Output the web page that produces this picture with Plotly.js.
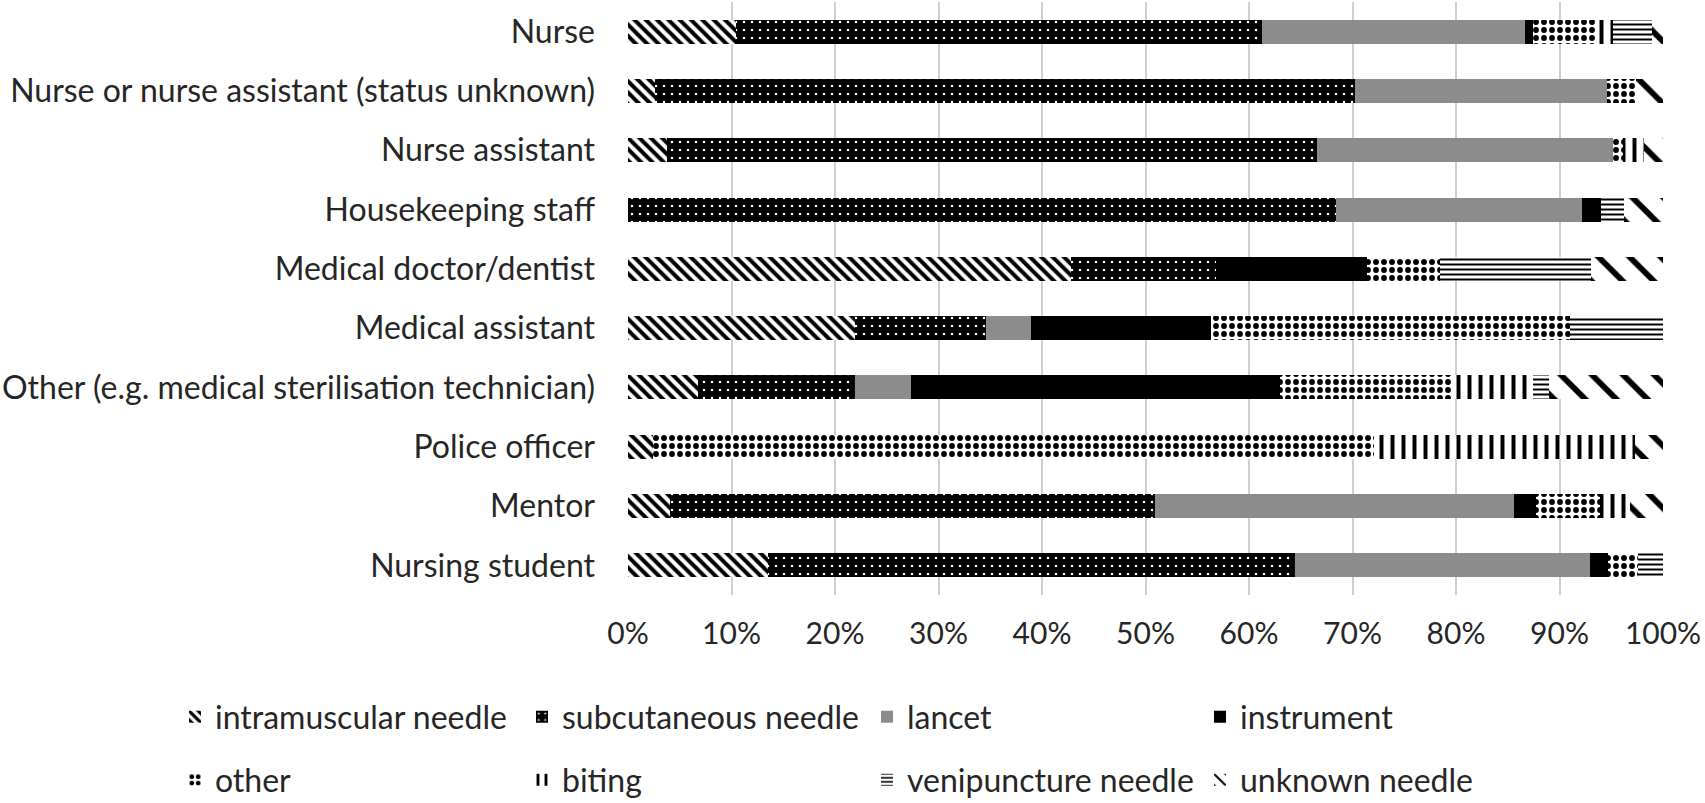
<!DOCTYPE html>
<html>
<head>
<meta charset="utf-8">
<script src="https://cdn.plot.ly/plotly-3.0.1.min.js"></script>
<style>
  html, body { margin: 0; padding: 0; background: #fff; }
  #chart { width: 1705px; height: 803px; }
  #chart text { font-variant-ligatures: none; }
</style>
</head>
<body>
<div id="chart"></div>
<script>
// occupations, top to bottom
var occupations = [
    'Nurse',
    'Nurse or nurse assistant (status unknown)',
    'Nurse assistant',
    'Housekeeping staff',
    'Medical doctor/dentist',
    'Medical assistant',
    'Other (e.g. medical sterilisation technician)',
    'Police officer',
    'Mentor',
    'Nursing student'
];

// share of injuries per device (%), same order as occupations
var intramuscular = [10.4, 2.6, 3.8, 0, 42.8, 21.9, 6.8, 2.4, 4.1, 13.5];
var subcutaneous  = [50.9, 67.6, 62.8, 68.4, 14.0, 12.7, 15.1, 0, 46.8, 50.9];
var lancet        = [25.4, 24.4, 28.6, 23.8, 0, 4.3, 5.4, 0, 34.7, 28.5];
var instrument    = [0.7, 0, 0, 1.8, 14.6, 17.4, 35.7, 0, 2.1, 1.8];
var other         = [6.1, 2.8, 0.9, 0, 7.1, 34.7, 16.6, 69.7, 6.2, 2.9];
var biting        = [1.7, 0, 2.1, 0, 0, 0, 7.8, 25.2, 2.9, 0];
var venipuncture  = [3.7, 0, 0, 2.2, 14.5, 9.0, 1.6, 0, 0, 2.4];
var unknown       = [1.1, 2.6, 1.8, 3.8, 7.0, 0, 11.0, 2.7, 3.2, 0];

var xTicks = [0, 10, 20, 30, 40, 50, 60, 70, 80, 90, 100];

var fontFamily = 'Lato, "Open Sans", sans-serif';
var textColor = '#262626';

// one bar trace per device, pattern mimics the excel fills
makeTrace = (name, values, color, pattern, legend) => {
    var marker = { color: color, line: { width: 0 } };
    if (pattern) marker.pattern = pattern;
    return {
        type: 'bar',
        orientation: 'h',
        name: name,
        x: values,
        y: occupations,
        marker: marker,
        legend: legend,
        hoverinfo: 'name+x'
    };
}

var data = [
    makeTrace('intramuscular needle', intramuscular, 'black',
        { shape: '\\', fgcolor: 'black', bgcolor: 'white', size: 8, solidity: 0.5 }, 'legend'),
    makeTrace('subcutaneous needle', subcutaneous, 'black',
        { shape: '.', fgcolor: 'white', bgcolor: 'black', size: 8, solidity: 0.08 }, 'legend2'),
    makeTrace('lancet', lancet, '#8c8c8c', null, 'legend3'),
    makeTrace('instrument', instrument, 'black', null, 'legend4'),
    makeTrace('other', other, 'black',
        { shape: '.', fgcolor: 'black', bgcolor: 'white', size: 8, solidity: 0.42 }, 'legend5'),
    makeTrace('biting', biting, 'black',
        { shape: '|', fgcolor: 'black', bgcolor: 'white', size: 11, solidity: 0.36 }, 'legend6'),
    makeTrace('venipuncture needle', venipuncture, 'black',
        { shape: '-', fgcolor: 'black', bgcolor: 'white', size: 5, solidity: 0.4 }, 'legend7'),
    makeTrace('unknown needle', unknown, 'black',
        { shape: '\\', fgcolor: 'black', bgcolor: 'white', size: 22, solidity: 0.26 }, 'legend8')
];

// legend grid: 4 columns x 2 rows, one small legend per entry
var legendCols = [175, 522, 867, 1200];
var legendRows = [717, 780];

makeLegend = (col, row) => ({
    orientation: 'h',
    xref: 'container',
    yref: 'container',
    x: legendCols[col] / 1705,
    y: 1 - legendRows[row] / 803,
    xanchor: 'left',
    yanchor: 'middle',
    font: { family: fontFamily, size: 32, color: textColor },
    bgcolor: 'rgba(0,0,0,0)'
});

var layout = {
    width: 1705,
    height: 803,
    margin: { l: 628, r: 42, t: 2, b: 208 },
    paper_bgcolor: 'white',
    plot_bgcolor: 'white',
    barmode: 'stack',
    bargap: 0.595,
    font: { family: fontFamily, size: 30, color: textColor },
    xaxis: {
        range: [0, 100],
        tickvals: xTicks,
        ticktext: xTicks.map(v => v + '%'),
        showgrid: true,
        gridcolor: '#cfcfcf',
        gridwidth: 2,
        zeroline: false,
        showline: false,
        ticks: '',
        ticklabelstandoff: 18,
        tickfont: { family: fontFamily, size: 30, color: textColor }
    },
    yaxis: {
        type: 'category',
        autorange: 'reversed',
        showgrid: false,
        zeroline: false,
        showline: false,
        ticks: '',
        ticklabelstandoff: 32,
        tickfont: { family: fontFamily, size: 32, color: textColor }
    },
    legend: makeLegend(0, 0),
    legend2: makeLegend(1, 0),
    legend3: makeLegend(2, 0),
    legend4: makeLegend(3, 0),
    legend5: makeLegend(0, 1),
    legend6: makeLegend(1, 1),
    legend7: makeLegend(2, 1),
    legend8: makeLegend(3, 1),
    showlegend: true
};

Plotly.newPlot('chart', data, layout, { displayModeBar: false, staticPlot: true });
</script>
</body>
</html>
